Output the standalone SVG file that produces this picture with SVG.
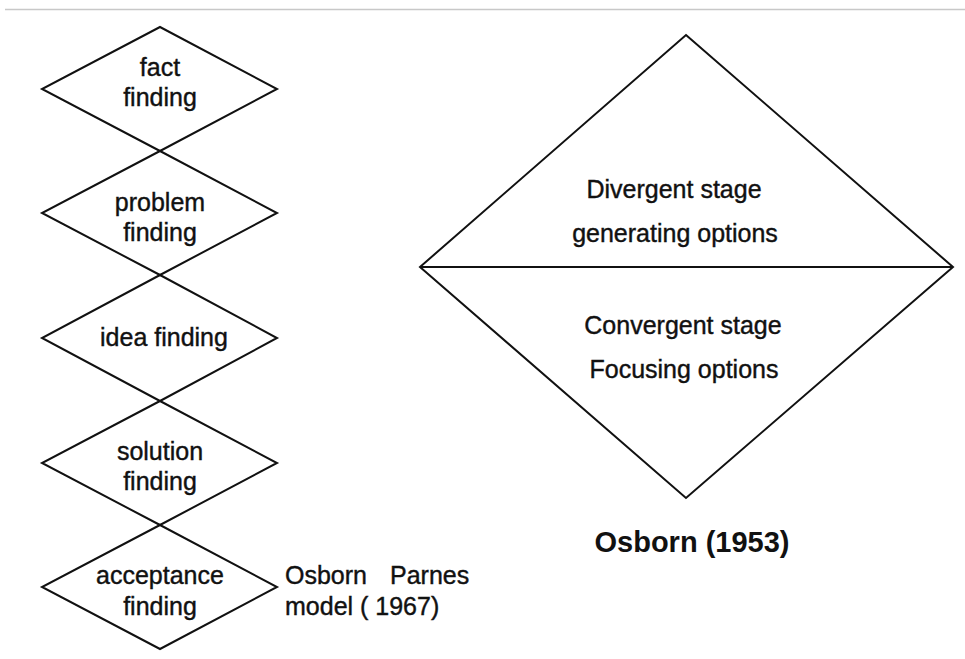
<svg xmlns="http://www.w3.org/2000/svg" width="965" height="659" viewBox="0 0 965 659">
<style>
.shape{fill:none;stroke:#111;stroke-width:2;stroke-linejoin:miter}
.t{font-family:"Liberation Sans",Arial,sans-serif;font-size:25px;fill:#111;stroke:#111;stroke-width:0.4;text-anchor:middle}
.tl{font-family:"Liberation Sans",Arial,sans-serif;font-size:25px;fill:#111;stroke:#111;stroke-width:0.4}
.title{font-family:"Liberation Sans",Arial,sans-serif;font-size:29px;font-weight:bold;fill:#111;text-anchor:middle}
</style>
<rect width="965" height="659" fill="#fff"/>
<line x1="5" y1="9.5" x2="965" y2="9.5" stroke="#c8c8c8" stroke-width="1.5"/>
<g id="connectors"></g>
<g id="fact-finding">
<polygon class="shape" points="160,27 277,89 160,151 42,89"/>
<text class="t" x="160" y="76">fact</text>
<text class="t" x="160" y="106">finding</text>
</g>
<g id="problem-finding">
<polygon class="shape" points="160,151 277,213 160,275 42,213"/>
<text class="t" x="160" y="211">problem</text>
<text class="t" x="160" y="241">finding</text>
</g>
<g id="idea-finding">
<polygon class="shape" points="160,275 277,338 160,401 42,338"/>
<text class="t" x="164" y="346">idea finding</text>
</g>
<g id="solution-finding">
<polygon class="shape" points="160,401 277,463 160,525 42,463"/>
<text class="t" x="160" y="460">solution</text>
<text class="t" x="160" y="490">finding</text>
</g>
<g id="acceptance-finding">
<polygon class="shape" points="160,525 277,587 160,649 42,587"/>
<text class="t" x="160" y="584">acceptance</text>
<text class="t" x="160" y="615">finding</text>
</g>
<g id="osborn-parnes-label">
<text class="tl" x="285" y="584">Osborn<tspan x="390">Parnes</tspan></text>
<text class="tl" x="285" y="615">model ( 1967)</text>
</g>
<g id="osborn-diamond">
<polygon class="shape" points="686,35 953,267 686,498 420,267"/>
<line class="shape" x1="420" y1="267" x2="953" y2="267"/>
<text class="t" x="674" y="198">Divergent stage</text>
<text class="t" x="675" y="242">generating options</text>
<text class="t" x="683" y="334">Convergent stage</text>
<text class="t" x="684" y="378">Focusing options</text>
</g>
<g id="osborn-title">
<text class="title" x="692" y="552">Osborn (1953)</text>
</g>
</svg>
